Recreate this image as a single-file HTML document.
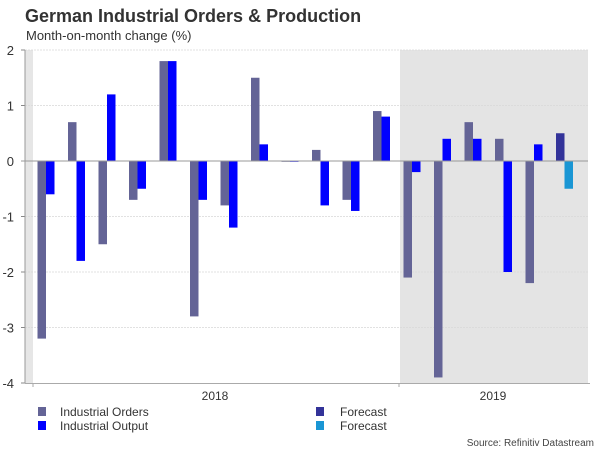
<!DOCTYPE html>
<html><head><meta charset="utf-8"><style>
body{margin:0;background:#fff;font-family:"Liberation Sans",sans-serif}
svg text{font-family:"Liberation Sans",sans-serif}
</style></head><body>
<svg width="600" height="450" viewBox="0 0 600 450">
<text x="25" y="22" font-size="18" font-weight="bold" fill="#333">German Industrial Orders &amp; Production</text>
<text x="26" y="40" font-size="13" fill="#333">Month-on-month change (%)</text>
<g id="plot"></g>
<text x="215" y="400" font-size="12" fill="#333" text-anchor="middle">2018</text>
<text x="493" y="400" font-size="12" fill="#333" text-anchor="middle">2019</text>
<g font-size="12" fill="#333">
<rect x="38" y="407" width="8" height="9" fill="#646496"/>
<text x="60" y="416">Industrial Orders</text>
<rect x="38" y="421" width="8" height="9" fill="#0000ff"/>
<text x="60" y="430">Industrial Output</text>
<rect x="316" y="407" width="8" height="9" fill="#333399"/>
<text x="340" y="416">Forecast</text>
<rect x="316" y="421" width="8" height="9" fill="#1a96d4"/>
<text x="340" y="430">Forecast</text>
</g>
<text x="594" y="446" font-size="10" fill="#444" text-anchor="end">Source: Refinitiv Datastream</text>
</svg>
<script>
const orders = [-3.2,0.7,-1.5,-0.7,1.8,-2.8,-0.8,1.5,0.0,0.2,-0.7,0.9,-2.1,-3.9,0.7,0.4,-2.2,null];
const output = [-0.6,-1.8,1.2,-0.5,1.8,-0.7,-1.2,0.3,0.0,-0.8,-0.9,0.8,-0.2,0.4,0.4,-2.0,0.3,null];
const forecastOrders = [null,null,null,null,null,null,null,null,null,null,null,null,null,null,null,null,null,0.5];
const forecastOutput = [null,null,null,null,null,null,null,null,null,null,null,null,null,null,null,null,null,-0.5];
const yTicks = [2,1,0,-1,-2,-3,-4];

const NS="http://www.w3.org/2000/svg";
const g=document.getElementById('plot');
const y=v=>161-v*55.5;
const xc=i=>46+i*30.5;
function mk(t,a){const e=document.createElementNS(NS,t);for(const k in a)e.setAttribute(k,a[k]);g.appendChild(e);return e;}
let e;
e=mk('rect',{x:25,y:y(2),width:8,height:y(-4)-y(2),fill:'#e6e6e6'});


e=mk('rect',{x:400,y:y(2),width:188,height:y(-4)-y(2),fill:'#e4e4e4'});


yTicks.forEach(t=>{
  if(t!==0&&t!==-4){e=mk('line',{x1:25,x2:588,y1:y(t),y2:y(t),stroke:'#d8d8d8','stroke-width':0.8,'stroke-dasharray':'2,1'});
  
  }
  e=mk('line',{x1:21,x2:25,y1:y(t),y2:y(t),stroke:'#888'});
  
  
  e=mk('text',{x:14,y:y(t)+5,'font-size':13,fill:'#333','text-anchor':'end'});
  e.textContent=t;
  
  
});
e=mk('line',{x1:25,x2:25,y1:y(2),y2:y(-4),stroke:'#999'});


e=mk('line',{x1:25,x2:590,y1:y(-4)+0.5,y2:y(-4)+0.5,stroke:'#aaa'});


[33,399].forEach(x=>{e=mk('line',{x1:x,x2:x,y1:y(-4),y2:y(-4)+4,stroke:'#aaa'});

});
function bar(i,v,side,col,name){
  if(v===null)return;
  const w=8.5,x=side<0?xc(i)-w:xc(i);
  const y0=Math.min(y(0),y(v)),h=Math.max(Math.abs(y(v)-y(0)),0.8);
  const r=mk('rect',{x:x,y:y0,width:w,height:h,fill:col});
  
  
}
orders.forEach((v,i)=>bar(i,v,-1,'#646496','bar-orders'));
output.forEach((v,i)=>bar(i,v,1,'#0000ff','bar-output'));
forecastOrders.forEach((v,i)=>bar(i,v,-1,'#333399','bar-forecast-orders'));
forecastOutput.forEach((v,i)=>bar(i,v,1,'#1a96d4','bar-forecast-output'));
e=mk('line',{x1:21,x2:588,y1:y(0),y2:y(0),stroke:'#999','stroke-width':1});


</script>
</body></html>
